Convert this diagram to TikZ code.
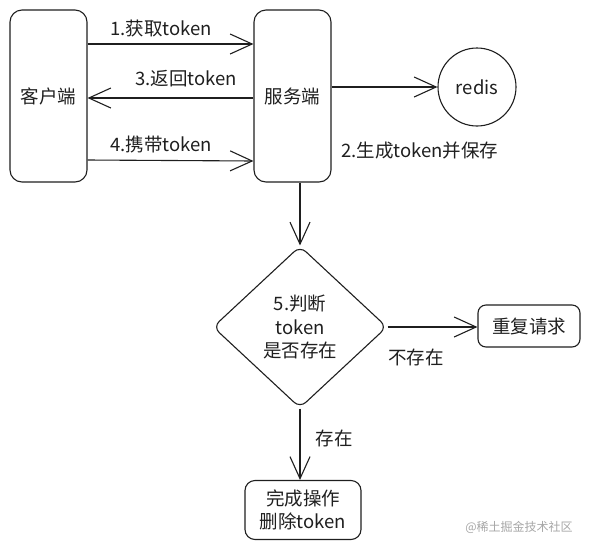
\documentclass[tikz,border=0pt]{standalone}
\usepackage{fontspec}
\setmainfont{Noto Sans CJK SC}
\usetikzlibrary{arrows.meta,shapes.geometric}
\tikzset{
  box/.style={draw, rounded corners=12pt, line width=1.1pt, align=center},
  flow/.style={-{Straight Barb[length=22pt,width=20pt,line width=1.1pt]}, line width=1.1pt},
  lbl/.style={inner sep=0pt, align=center}
}
\begin{document}
\begin{tikzpicture}[x=1pt, y=-1pt, font=\fontsize{18.5}{23.5}\selectfont, color={black!88}]
\useasboundingbox (0,0) rectangle (590,550);
% blocks
\node[box, minimum width=77pt, minimum height=172pt] (client) at (48.5,96) {客户端};
\node[box, minimum width=77pt, minimum height=172pt] (server) at (292.5,96) {服务端};
\node[draw, circle, line width=1.1pt, minimum size=78pt] (redis) at (477,87) {redis};
\node[draw, diamond, rounded corners=8pt, line width=1.1pt, minimum width=174pt, minimum height=162pt, align=center] (decide) at (300,327) {5.判断\\token\\是否存在};
\node[box, rounded corners=8pt, minimum width=102pt, minimum height=42pt] (retry) at (529,326) {重复请求};
\node[box, rounded corners=10pt, minimum width=116pt, minimum height=59pt] (done) at (303,510) {完成操作\\删除token};
% client <-> server
\draw[flow] ([yshift=52pt]client.east) -- ([yshift=52pt]server.west);
\draw[flow] ([yshift=-2pt]server.west) -- ([yshift=-2pt]client.east);
\draw[flow] ([yshift=-64pt]client.east) -- ([yshift=-65pt]server.west);
\node[lbl] (get) at (161,28) {1.获取token};
\node[lbl] (back) at (186,79) {3.返回token};
\node[lbl] (carry) at (161,144) {4.携带token};
% server -> redis
\draw[flow] (server.east |- redis.west) -- (redis.west);
\node[lbl, anchor=west] (save) at (341,151) {2.生成token并保存};
% check
\draw[flow] (decide.north |- server.south) -- (decide.north);
\draw[flow] (decide.east) -- (decide.east -| retry.west);
\node[lbl] (miss) at (416,357) {不存在};
\draw[flow] (decide.south) -- (decide.south |- done.north);
\node[lbl] (hit) at (334,438) {存在};
% watermark
\node[lbl, text=black!35, font=\fontsize{12}{14}\selectfont] (mark) at (519,527) {@稀土掘金技术社区};
\end{tikzpicture}
\end{document}
